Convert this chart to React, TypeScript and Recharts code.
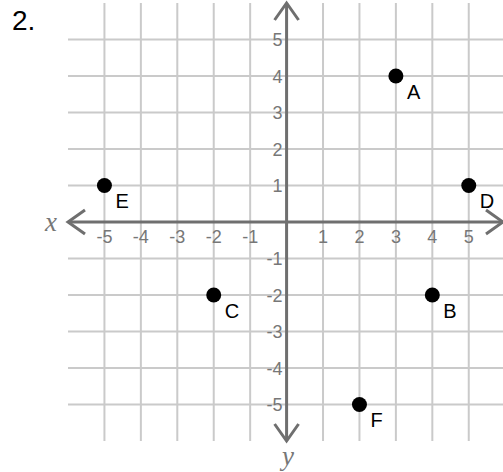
import React from 'react';
import { ScatterChart, Scatter, XAxis, YAxis, ReferenceLine } from 'recharts';

const pointNames = ['A', 'B', 'C', 'D', 'E', 'F'];
const pointX = [3, 4, -2, 5, -5, 2];
const pointY = [4, -2, -2, 1, 1, -5];
const xTicks = [-5, -4, -3, -2, -1, 1, 2, 3, 4, 5];
const yTicks = [-5, -4, -3, -2, -1, 1, 2, 3, 4, 5];
const gridTicks = [-5, -4, -3, -2, -1, 0, 1, 2, 3, 4, 5];

const points = pointNames.map((n, i) => ({ name: n, x: pointX[i], y: pointY[i] }));
const xTickData = xTicks.map((v) => ({ x: v, y: 0, label: String(v) }));
const yTickData = yTicks.map((v) => ({ x: 0, y: v, label: String(v) }));

const AXIS_COLOR = '#6f6f6f';
const GRID_COLOR = '#cacaca';
const SANS = '"Liberation Sans", Arial, Helvetica, sans-serif';
const SERIF = '"Liberation Serif", "Times New Roman", serif';

const AxisShape = (p: any) => {
  const { x1, y1, x2, y2 } = p;
  const len = Math.hypot(x2 - x1, y2 - y1) || 1;
  const dx = (x2 - x1) / len;
  const dy = (y2 - y1) / len;
  const px = -dy;
  const py = dx;
  const a = 17;
  const b = 12;
  const chev = (tx: number, ty: number, ux: number, uy: number) =>
    `M${tx - a * ux + b * px},${ty - a * uy + b * py} L${tx},${ty} L${tx - a * ux - b * px},${ty - a * uy - b * py}`;
  return (
    <g>
      <line x1={x1} y1={y1} x2={x2} y2={y2} stroke={AXIS_COLOR} strokeWidth={3} />
      <path d={chev(x2, y2, dx, dy)} fill="none" stroke={AXIS_COLOR} strokeWidth={3} />
      <path d={chev(x1, y1, -dx, -dy)} fill="none" stroke={AXIS_COLOR} strokeWidth={3} />
    </g>
  );
};

const XTickShape = (p: any) => (
  <text x={p.cx} y={p.cy + 21} textAnchor="middle" fill="#777" fontSize={18} fontFamily={SANS}>
    {p.payload.label}
  </text>
);

const YTickShape = (p: any) => (
  <text x={p.cx - 4} y={p.cy + 6.5} textAnchor="end" fill="#777" fontSize={18} fontFamily={SANS}>
    {p.payload.label}
  </text>
);

const PointShape = (p: any) => (
  <g>
    <circle cx={p.cx} cy={p.cy} r={7.5} fill="#000" />
    <text x={p.cx + 11} y={p.cy + 22.5} fill="#000" fontSize={20} fontFamily={SANS}>
      {p.payload.name}
    </text>
  </g>
);

export default function App() {
  return (
    <div style={{ position: 'absolute', left: 0, top: 0, width: 503, height: 472, background: '#fff' }}>
      <ScatterChart width={503} height={472} margin={{ top: 3, right: 0, bottom: 31, left: 68 }}>
        <XAxis
          type="number"
          dataKey="x"
          domain={[-6, 5.94]}
          height={0}
          axisLine={false}
          tickLine={false}
          tick={false}
          allowDataOverflow
        />
        <YAxis
          type="number"
          dataKey="y"
          domain={[-6, 6]}
          width={0}
          axisLine={false}
          tickLine={false}
          tick={false}
          allowDataOverflow
        />
        {gridTicks.map((t) => (
          <ReferenceLine key={`gx${t}`} x={t} stroke={GRID_COLOR} strokeWidth={2} ifOverflow="visible" />
        ))}
        {gridTicks.map((t) => (
          <ReferenceLine key={`gy${t}`} y={t} stroke={GRID_COLOR} strokeWidth={2} ifOverflow="visible" />
        ))}
        <ReferenceLine y={0} shape={AxisShape} ifOverflow="visible" />
        <ReferenceLine x={0} shape={AxisShape} ifOverflow="visible" />
        <Scatter data={xTickData} shape={XTickShape} isAnimationActive={false} />
        <Scatter data={yTickData} shape={YTickShape} isAnimationActive={false} />
        <Scatter data={points} shape={PointShape} isAnimationActive={false} />
      </ScatterChart>
      <svg width={503} height={472} style={{ position: 'absolute', left: 0, top: 0, pointerEvents: 'none' }}>
        <text x={12} y={30} fontSize={28} fill="#000" fontFamily={SANS}>2.</text>
        <text x={51} y={231} textAnchor="middle" fontSize={27} fill="#777" fontStyle="italic" fontFamily={SERIF}>x</text>
        <text x={288} y={465} textAnchor="middle" fontSize={27} fill="#777" fontStyle="italic" fontFamily={SERIF}>y</text>
      </svg>
    </div>
  );
}
